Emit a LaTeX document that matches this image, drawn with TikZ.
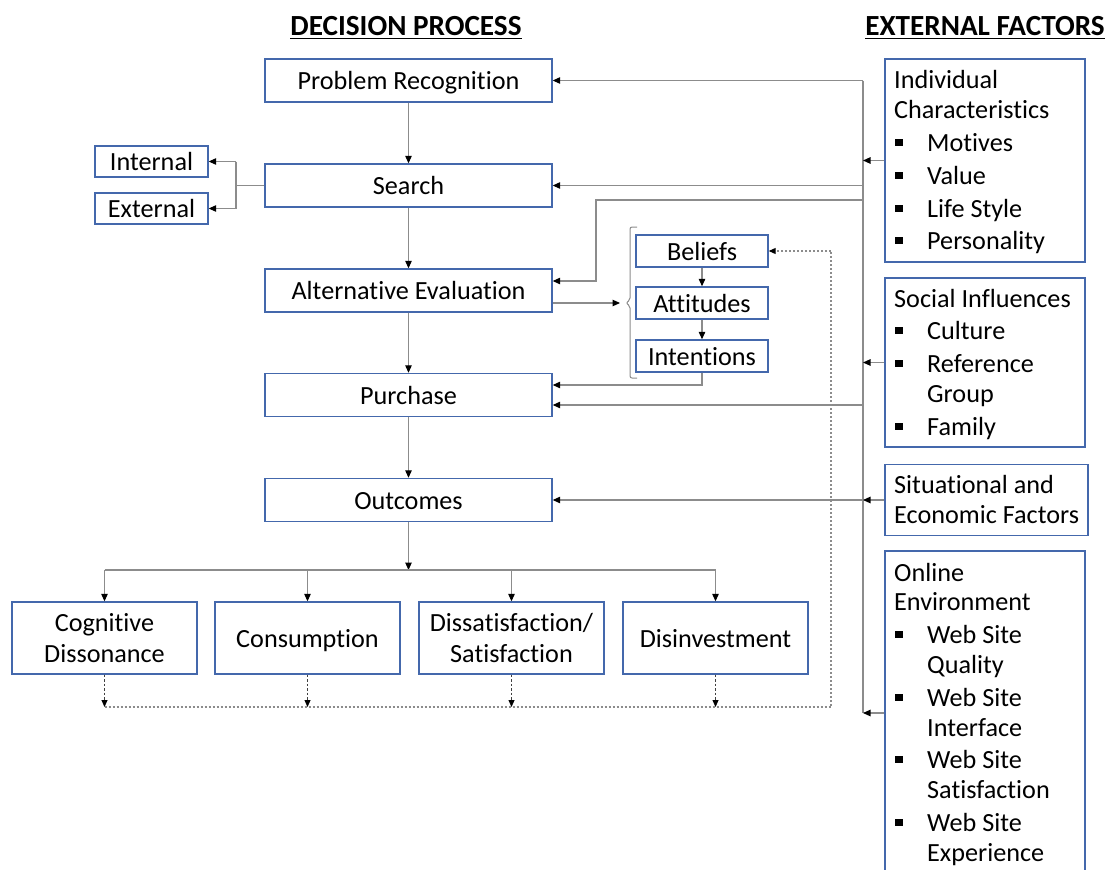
\documentclass[tikz,border=0pt]{standalone}
\usepackage{fontspec}
\setmainfont[RawFeature={-liga;-clig}]{Carlito}
\usetikzlibrary{arrows.meta,calc}
\definecolor{boxblue}{RGB}{68,104,172}
\definecolor{wire}{RGB}{140,140,140}
\newcommand\bodyfont{\fontsize{26.2pt}{31pt}\selectfont}
\newcommand\headfont{\fontsize{29.2pt}{34pt}\selectfont\bfseries}
\begin{document}
\begin{tikzpicture}[x=1pt,y=-1pt,
  frame/.style={draw=boxblue, line width=1.4pt, fill=white, inner sep=0pt, font=\bodyfont, align=center},
  onel/.style={text height=19pt, text depth=0.5pt},
  mainbox/.style={frame, onel, minimum width=287pt, minimum height=43pt},
  smallbox/.style={frame, onel, minimum width=113pt, minimum height=31pt},
  bacbox/.style={frame, onel, minimum width=132pt, minimum height=32pt},
  lowbox/.style={frame, minimum width=185pt, minimum height=72pt},
  extbox/.style={frame, minimum width=200pt},
  ext/.style={anchor=base west, inner sep=0pt, font=\bodyfont},
  title/.style={anchor=base, inner sep=0pt, font=\headfont},
  wireline/.style={draw=wire, line width=1.1pt},
  arr/.style={wireline, -{Triangle[length=7.5pt,width=6.5pt,color=black]}},
  dasharr/.style={draw=black!75, line width=0.8pt, dash pattern=on 2.5pt off 2pt, -{Triangle[length=7pt,width=6pt,color=black]}},
  dotline/.style={draw=wire, line width=1.1pt, dash pattern=on 2pt off 2pt},
  bullet/.style={fill=black}
]
\useasboundingbox (0,0) rectangle (1111,870);

% headings
\node[title] (tdp) at (406,35) {DECISION PROCESS};
\node[title] (tef) at (985,35) {EXTERNAL FACTORS};
\draw[line width=1.6pt] ($(tdp.base west)+(0,3.5)$) -- ($(tdp.base east)+(0,3.5)$);
\draw[line width=1.6pt] ($(tef.base west)+(0,3.5)$) -- ($(tef.base east)+(0,3.5)$);

% decision process column
\node[mainbox] (pr)  at (408.5,80.5)  {Problem Recognition};
\node[mainbox] (sea) at (408.5,185.5) {Search};
\node[mainbox] (alt) at (408.5,290.5) {Alternative Evaluation};
\node[mainbox] (pur) at (408.5,395)   {Purchase};
\node[mainbox] (out) at (408.5,500)   {Outcomes};

\draw[arr] (pr) -- (sea);
\draw[arr] (sea) -- (alt);
\draw[arr] (alt) -- (pur);
\draw[arr] (pur) -- (out);

% search sources
\node[smallbox] (int) at (151.5,161.5) {Internal};
\node[smallbox] (ext) at (151.5,208.5) {External};
\coordinate (sj) at (236,185.5);
\draw[wireline] (sea.west) -- (sj);
\draw[wireline] (sj |- int.east) -- (sj |- ext.east);
\draw[arr] (sj |- int.east) -- (int.east);
\draw[arr] (sj |- ext.east) -- (ext.east);

% beliefs / attitudes / intentions
\node[bacbox] (bel) at (702,251) {Beliefs};
\node[bacbox] (att) at (702,303) {Attitudes};
\node[bacbox] (itn) at (702,356) {Intentions};
\draw[arr] (bel) -- (att);
\draw[arr] (att) -- (itn);
\draw[wire, line width=1pt, rounded corners=2pt]
  (637,227) -- (630,227) -- (630,300) -- (626,303) -- (630,306) -- (630,378) -- (637,378);
\coordinate (brk) at (620,303);
\draw[arr] (alt.east |- brk) -- (brk);
\coordinate (ib) at (702,385);
\draw[arr] (itn.south) -- (ib) -- (pur.east |- ib);

% outcomes
\node[lowbox] (cd)   at (104.5,638) {Cognitive\\Dissonance};
\node[lowbox, onel] (cons) at (307.5,638) {Consumption};
\node[lowbox] (dis)  at (511.5,638) {Dissatisfaction/\\Satisfaction};
\node[lowbox, onel] (disv) at (715.5,638) {Disinvestment};
\coordinate (hl) at (408.5,570);
\draw[arr] (out.south) -- (hl);
\draw[wireline] (cd.north |- hl) -- (disv.north |- hl);
\foreach \b in {cd,cons,dis,disv}
  \draw[arr] (\b.north |- hl) -- (\b.north);

% feedback loop
\coordinate (fl) at (408.5,707);
\coordinate (fr) at (831,707);
\foreach \b in {cd,cons,dis,disv}
  \draw[dasharr] (\b.south) -- (\b.south |- fl);
\draw[dotline] (cd.south |- fl) -- (fr) -- (fr |- bel.east);
\draw[dotline, -{Triangle[length=7pt,width=6pt,color=black]}] (fr |- bel.east) -- (bel.east);

% external factor boxes
\node[extbox, minimum height=203pt] (indiv) at (985,160.5) {};
\node[extbox, minimum height=169pt] (soc)   at (985,362.5) {};
\node[extbox, minimum width=203pt, minimum height=71pt] (situ) at (986.5,500) {};
\node[extbox, minimum height=324pt] (onl)   at (985,713) {};

\foreach \t/\y [count=\i] in {Individual/80, Characteristics/110}
  \node[ext] (ic\i) at (894,{\y+8.3}) {\t};
\foreach \t/\y [count=\i] in {Motives/143, Value/176, Life Style/209, Personality/241}{
  \node[ext] (icb\i) at (927,{\y+8.3}) {\t};
  \fill[bullet] (895,{\y-4.5}) rectangle ++(7.5,7.5);
}
\node[ext] (si1) at (894,{299+8.3}) {Social Influences};
\foreach \t/\y [count=\i] in {Culture/331, Reference/364, Family/427}{
  \node[ext] (sib\i) at (927,{\y+8.3}) {\t};
  \fill[bullet] (895,{\y-4.5}) rectangle ++(7.5,7.5);
}
\node[ext] (sic) at (927,{394+8.3}) {Group};
\node[ext] (se1) at (894,{485+8.3}) {Situational and};
\node[ext] (se2) at (894,{515+8.3}) {Economic Factors};
\node[ext] (oe1) at (894,{573+8.3}) {Online};
\node[ext] (oe2) at (894,{602+8.3}) {Environment};
\foreach \t/\y [count=\i] in {Quality/635, Interface/698, Satisfaction/760, Experience/823}{
  \node[ext] (oeb\i) at (927,{\y+8.3}) {Web Site};
  \node[ext] (oec\i) at (927,{\y+30+8.3}) {\t};
  \fill[bullet] (895,{\y-4.5}) rectangle ++(7.5,7.5);
}

% external influence bus
\coordinate (vt) at (863,80.5);
\coordinate (vb) at (863,713);
\draw[wireline] (vt) -- (vb);
\draw[arr] (indiv.west) -- (indiv.west -| vt);
\draw[arr] (soc.west) -- (soc.west -| vt);
\draw[arr] (situ.west) -- (situ.west -| vt);
\draw[arr] (onl.west) -- (vb);

\draw[arr] (vt) -- (pr.east);
\draw[arr] (sea.east -| vt) -- (sea.east);
\coordinate (ab) at (596,200);
\draw[arr] (ab -| vt) -- (ab) -- (ab |- 0,281) -- (alt.east |- 0,281);
\draw[arr] (vt |- 0,405) -- (pur.east |- 0,405);
\draw[arr] (situ.west -| vt) -- (out.east);
\end{tikzpicture}
\end{document}
